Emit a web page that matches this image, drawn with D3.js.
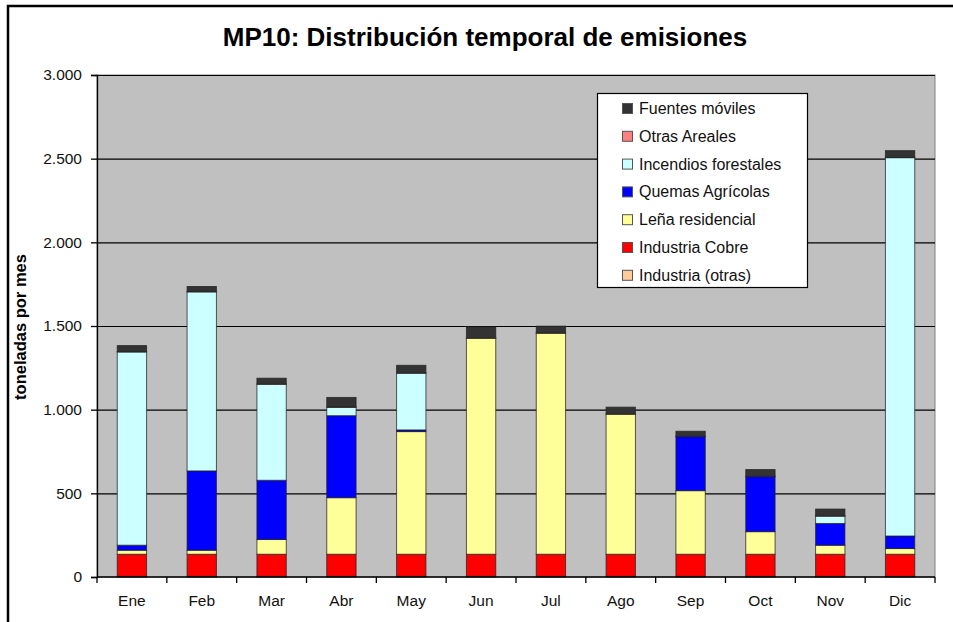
<!DOCTYPE html>
<html>
<head>
<meta charset="utf-8">
<script src="https://cdn.jsdelivr.net/npm/d3@7"></script>
<style>
  html, body { margin: 0; padding: 0; background: #fff; }
  svg { display: block; font-family: "Liberation Sans", Arial, sans-serif; }
</style>
</head>
<body>
<svg id="chart" width="953" height="622"></svg>
<script>
// Months on the category axis
const months = ["Ene", "Feb", "Mar", "Abr", "May", "Jun", "Jul", "Ago", "Sep", "Oct", "Nov", "Dic"];

// Monthly PM10 emissions (t/month) by source, stacked bottom to top
const industriaOtras  = [4, 4, 4, 4, 4, 4, 4, 4, 4, 4, 4, 4];
const industriaCobre  = [132, 132, 132, 132, 132, 132, 132, 132, 132, 132, 132, 132];
const lenaResidencial = [24, 24, 88, 338, 733, 1291, 1321, 837, 380, 135, 54, 34];
const quemasAgricolas = [30, 474, 354, 490, 10, 0, 0, 0, 323, 329, 130, 75];
const incendiosForest = [1155, 1070, 574, 50, 339, 0, 0, 0, 0, 0, 44, 2261];
const otrasAreales    = [2, 2, 2, 2, 2, 2, 2, 2, 2, 2, 2, 2];
const fuentesMoviles  = [36, 30, 34, 57, 45, 66, 40, 40, 30, 40, 40, 40];

const yTicks = [0, 500, 1000, 1500, 2000, 2500, 3000];

const seriesNames = ["Industria (otras)", "Industria Cobre", "Leña residencial",
  "Quemas Agrícolas", "Incendios forestales", "Otras Areales", "Fuentes móviles"];
const seriesValues = [industriaOtras, industriaCobre, lenaResidencial,
  quemasAgricolas, incendiosForest, otrasAreales, fuentesMoviles];
const seriesColors = ["#FFCC99", "#FF0000", "#FFFF99", "#0000FF", "#CCFFFF", "#FF8080", "#333333"];

const table = months.map((m, i) => {
  const row = { month: m };
  seriesNames.forEach((s, k) => { row[s] = seriesValues[k][i]; });
  return row;
});

const svg = d3.select("#chart");
const plot = { left: 97, right: 935, top: 75, bottom: 577 };

// Outer frame (left and top edges)
svg.append("path")
  .attr("d", "M8,622 L8,6 L953,6")
  .attr("fill", "none").attr("stroke", "#000").attr("stroke-width", 2.5);

// Title
svg.append("text")
  .attr("x", 485).attr("y", 46)
  .attr("text-anchor", "middle")
  .attr("font-size", 26).attr("font-weight", "bold")
  .text("MP10: Distribución temporal de emisiones");

const x = d3.scaleBand().domain(months)
  .range([plot.left, plot.right]).paddingInner(0.58).paddingOuter(0.29);
const y = d3.scaleLinear().domain([0, 3000]).range([plot.bottom, plot.top]);

const loc = d3.formatLocale({ decimal: ",", thousands: ".", grouping: [3], currency: ["", ""] });
const fmt = loc.format(",d");

// Plot background
svg.append("rect")
  .attr("x", plot.left).attr("y", plot.top)
  .attr("width", plot.right - plot.left).attr("height", plot.bottom - plot.top)
  .attr("fill", "#C0C0C0").attr("stroke", "#808080").attr("stroke-width", 1);

// Horizontal gridlines
svg.append("g").selectAll("line")
  .data(yTicks.filter(t => t > 0))
  .join("line")
  .attr("x1", plot.left).attr("x2", plot.right)
  .attr("y1", d => y(d) + 0.5).attr("y2", d => y(d) + 0.5)
  .attr("stroke", "#000").attr("stroke-width", 1.2);

// Stacked bars
const stack = d3.stack().keys(seriesNames)(table);
svg.append("g").selectAll("g")
  .data(stack)
  .join("g")
  .attr("fill", (d, i) => seriesColors[i])
  .selectAll("rect")
  .data(d => d.filter(p => p[1] - p[0] > 0))
  .join("rect")
  .attr("x", d => x(d.data.month))
  .attr("width", x.bandwidth())
  .attr("y", d => y(d[1]))
  .attr("height", d => y(d[0]) - y(d[1]))
  .attr("stroke", "#222").attr("stroke-opacity", 0.75).attr("stroke-width", 1);

// Y axis
const yAxis = svg.append("g")
  .attr("transform", `translate(${plot.left},0)`)
  .call(d3.axisLeft(y).tickValues(yTicks).tickFormat(fmt).tickSize(6).tickPadding(9));
yAxis.select(".domain").attr("stroke", "#000").attr("stroke-width", 1.3);
yAxis.selectAll(".tick line").attr("stroke", "#000").attr("stroke-width", 1.3);
yAxis.selectAll("text").attr("font-size", 15.5).attr("fill", "#111")
  .attr("font-family", "'Liberation Sans', Arial, sans-serif");

// X axis with ticks between categories
const xAxisG = svg.append("g").attr("transform", `translate(0,${plot.bottom})`);
xAxisG.append("line")
  .attr("x1", plot.left).attr("x2", plot.right)
  .attr("stroke", "#000").attr("stroke-width", 1.3);
const bounds = months.map(m => x(m) - x.step() * x.paddingInner() / 2).concat([plot.right]);
xAxisG.selectAll("line.tk")
  .data(bounds)
  .join("line").attr("class", "tk")
  .attr("x1", d => d).attr("x2", d => d)
  .attr("y1", 0).attr("y2", 6)
  .attr("stroke", "#000").attr("stroke-width", 1.3);
xAxisG.selectAll("text")
  .data(months)
  .join("text")
  .attr("x", d => x(d) + x.bandwidth() / 2)
  .attr("y", 29)
  .attr("text-anchor", "middle")
  .attr("font-size", 15.5).attr("fill", "#111")
  .text(d => d);

// Y axis title
svg.append("text")
  .attr("transform", "translate(26,327) rotate(-90)")
  .attr("text-anchor", "middle")
  .attr("font-size", 16.5).attr("font-weight", "bold")
  .text("toneladas por mes");

// Legend (top of stack listed first)
const leg = svg.append("g");
leg.append("rect")
  .attr("x", 597.5).attr("y", 93.5).attr("width", 210).attr("height", 194)
  .attr("fill", "#fff").attr("stroke", "#000").attr("stroke-width", 1.2);
const legendOrder = d3.range(seriesNames.length).reverse();
const rowH = 27.8;
const items = leg.selectAll("g.item")
  .data(legendOrder)
  .join("g").attr("class", "item")
  .attr("transform", (k, i) => `translate(622,${108.5 + i * rowH})`);
items.append("rect")
  .attr("x", 0.5).attr("y", -5).attr("width", 10).attr("height", 10)
  .attr("fill", k => seriesColors[k]).attr("stroke", "#555").attr("stroke-width", 1);
items.append("text")
  .attr("x", 17).attr("y", 5.5)
  .attr("font-size", 16).attr("fill", "#111")
  .text(k => seriesNames[k]);
</script>
</body>
</html>
